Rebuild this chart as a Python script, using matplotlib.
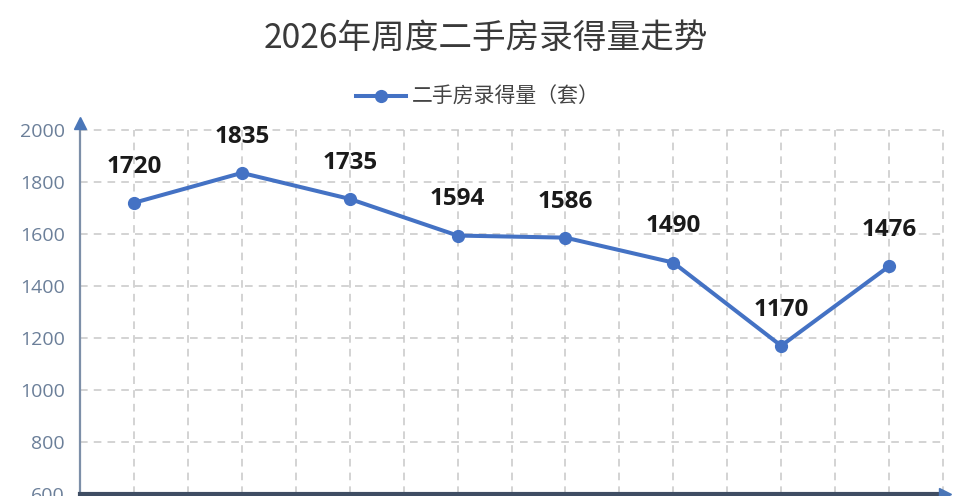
import matplotlib
matplotlib.use("Agg")
import matplotlib.pyplot as plt
import numpy as np

plt.rcParams['font.family'] = ['Noto Sans CJK SC', 'DejaVu Sans']

weeks = ["第1周", "第2周", "第3周", "第4周", "第5周", "第6周", "第7周", "第8周"]
values = [1720, 1835, 1735, 1594, 1586, 1490, 1170, 1476]
y_ticks = [600, 800, 1000, 1200, 1400, 1600, 1800, 2000]
title = "2026年周度二手房录得量走势"
series_name = "二手房录得量（套）"

line_color = "#4472C4"
W, H = 960, 496
fig = plt.figure(figsize=(W / 100, H / 100), dpi=100)
fig.patch.set_facecolor("white")
ax = fig.add_axes([80 / W, 2 / H, (943 - 80) / W, (494 - 130) / H])

x = np.arange(len(values))
ax.plot(x, values, color=line_color, lw=2.9, marker='o', markersize=8.5,
        label=series_name, zorder=5, clip_on=False)

for xi, v in zip(x, values):
    ax.annotate(f"{v}", (xi, v), xytext=(0, 26), textcoords='offset points',
                ha='center', va='center', fontsize=17.5, fontweight='bold',
                color='#1a1a1a', family=['Open Sans', 'DejaVu Sans'], zorder=6)

ax.set_xlim(-0.5, len(values) - 0.5)
ax.set_ylim(600, 2000)
ax.set_xticks(np.arange(-0.5, len(values), 0.5))
ax.set_xticklabels([])
ax.set_yticks(y_ticks)
ax.set_yticklabels([str(t) for t in y_ticks], family=['Open Sans', 'DejaVu Sans'])
ax.tick_params(axis='both', length=0)
ax.tick_params(axis='y', labelsize=14, labelcolor='#6b7f99', pad=11)

ax.grid(True, color='#c8c8c8', lw=1.1, linestyle=(0, (5, 4)))
for gl in ax.get_xgridlines() + ax.get_ygridlines():
    gl.set_clip_on(False)
ax.set_axisbelow(True)

for s in ['top', 'right']:
    ax.spines[s].set_visible(False)
ax.spines['left'].set_color('#7d8fa8')
ax.spines['left'].set_linewidth(1.6)
ax.spines['bottom'].set_color('#3f4d63')
ax.spines['bottom'].set_linewidth(3)

# axis arrows
ax.plot([0], [1.02], marker='^', markersize=9, color='#4a76b8',
        transform=ax.transAxes, clip_on=False, zorder=7)
ax.plot([1.002], [0], marker='>', markersize=9, color='#4a76b8',
        transform=ax.transAxes, clip_on=False, zorder=7)

fig.text(486 / W, 1 - 38 / H, title, ha='center', va='center', fontsize=24.2,
         color='#3a3a3a')

fig.legend(loc='center', bbox_to_anchor=(478 / W, 1 - 97 / H), frameon=False,
           fontsize=15, labelcolor='#444444', handlelength=2.4, handletextpad=0.3)

fig.savefig("out.png", dpi=100, facecolor='white')
